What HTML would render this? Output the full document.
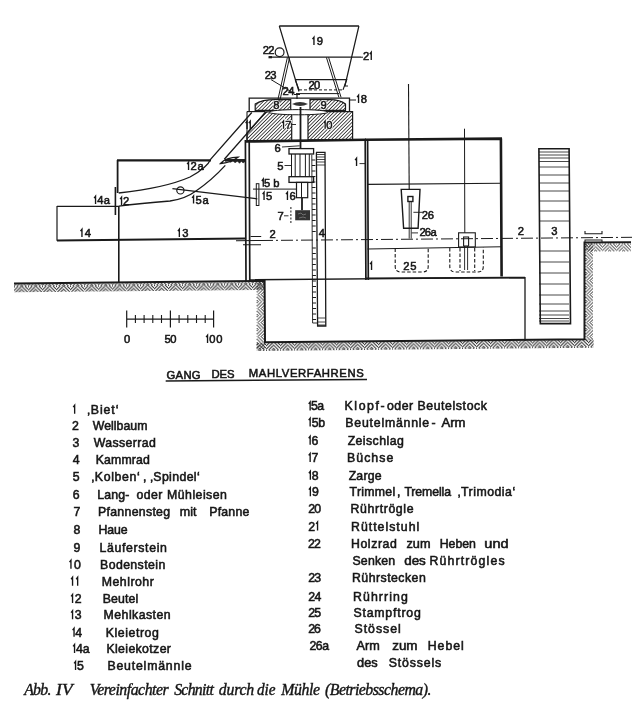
<!DOCTYPE html>
<html><head><meta charset="utf-8">
<style>
html,body{margin:0;padding:0;background:#fff;width:641px;height:705px;overflow:hidden}
svg{display:block;position:absolute;left:0;top:0;will-change:transform}
text.s{font-family:"Liberation Sans",sans-serif;fill:#161616;stroke:#161616;stroke-width:0.55px}
text.c{font-family:"Liberation Serif",serif;font-style:italic;fill:#161616;stroke:#161616;stroke-width:0.4px}
</style></head>
<body>
<svg width="641" height="705" viewBox="0 0 641 705">
<defs>
<pattern id="hb1" patternUnits="userSpaceOnUse" x="0" y="284" width="14" height="8"><path d="M0.00,0.80 L0.80,0.00 M0.00,4.10 L4.10,0.00 M0.00,7.40 L7.00,0.40 M2.70,8.00 L7.00,3.70 M6.00,8.00 L7.00,7.00 M7.00,5.80 L9.20,8.00 M7.00,2.50 L12.50,8.00 M7.80,0.00 L14.00,6.20 M11.10,0.00 L14.00,2.90" stroke="#1a1a1a" stroke-width="1.0" fill="none"/></pattern>
<pattern id="hb2" patternUnits="userSpaceOnUse" x="0" y="342" width="14" height="8"><path d="M0.00,0.80 L0.80,0.00 M0.00,4.10 L4.10,0.00 M0.00,7.40 L7.00,0.40 M2.70,8.00 L7.00,3.70 M6.00,8.00 L7.00,7.00 M7.00,5.80 L9.20,8.00 M7.00,2.50 L12.50,8.00 M7.80,0.00 L14.00,6.20 M11.10,0.00 L14.00,2.90" stroke="#1a1a1a" stroke-width="1.0" fill="none"/></pattern>
<pattern id="hb3" patternUnits="userSpaceOnUse" x="0" y="243.6" width="14" height="8"><path d="M0.00,0.80 L0.80,0.00 M0.00,4.10 L4.10,0.00 M0.00,7.40 L7.00,0.40 M2.70,8.00 L7.00,3.70 M6.00,8.00 L7.00,7.00 M7.00,5.80 L9.20,8.00 M7.00,2.50 L12.50,8.00 M7.80,0.00 L14.00,6.20 M11.10,0.00 L14.00,2.90" stroke="#1a1a1a" stroke-width="1.0" fill="none"/></pattern>
<pattern id="hv1" patternUnits="userSpaceOnUse" width="14" height="8" patternTransform="translate(264.6,0) rotate(90)"><path d="M0.00,0.80 L0.80,0.00 M0.00,4.10 L4.10,0.00 M0.00,7.40 L7.00,0.40 M2.70,8.00 L7.00,3.70 M6.00,8.00 L7.00,7.00 M7.00,5.80 L9.20,8.00 M7.00,2.50 L12.50,8.00 M7.80,0.00 L14.00,6.20 M11.10,0.00 L14.00,2.90" stroke="#1a1a1a" stroke-width="1.0" fill="none"/></pattern>
<pattern id="hv2" patternUnits="userSpaceOnUse" width="14" height="8" patternTransform="translate(593.5,0) rotate(90)"><path d="M0.00,0.80 L0.80,0.00 M0.00,4.10 L4.10,0.00 M0.00,7.40 L7.00,0.40 M2.70,8.00 L7.00,3.70 M6.00,8.00 L7.00,7.00 M7.00,5.80 L9.20,8.00 M7.00,2.50 L12.50,8.00 M7.80,0.00 L14.00,6.20 M11.10,0.00 L14.00,2.90" stroke="#1a1a1a" stroke-width="1.0" fill="none"/></pattern>
<pattern id="st" patternUnits="userSpaceOnUse" width="2.5" height="2.5" patternTransform="rotate(45)">
<rect x="0" y="0" width="0.85" height="2.5" fill="#333"/>
</pattern>
</defs>
<g id="diagram" stroke="#1a1a1a" fill="none" stroke-linecap="butt">
<!-- ground hatch -->
<g transform="translate(265,284) skewY(-0.57) translate(-265,-284)"><rect x="14" y="281.8" width="251" height="8" fill="url(#hb1)" stroke="none"/></g>
<rect x="256.6" y="282" width="8" height="67" fill="url(#hv1)" stroke="none"/>
<g transform="translate(265,342) skewY(-0.54) translate(-265,-342)"><rect x="256.6" y="342.8" width="337" height="8" fill="url(#hb2)" stroke="none"/></g>
<rect x="585" y="243.4" width="8" height="97" fill="url(#hv2)" stroke="none"/>
<rect x="585.5" y="243.4" width="45.5" height="8" fill="url(#hb3)" stroke="none"/>
<path d="M14,283.5 L264.6,281 L265,342.2 L584.5,339.2 L584.5,242.6 L631,242.2" stroke-width="2"/>
<!-- foundation -->
<path d="M249,279.8 L525,277.6 L525,341" stroke-width="1.3"/>
<!-- Mehlkasten / Kleietrog -->
<path d="M117,160.3 L211,160.3" stroke-width="2.2"/>
<path d="M225,160.3 L245,160.3" stroke-width="2.2"/>
<path d="M225,159.5 L245,159.5 L245,161.5 L243,163 L241.5,161 L239.5,163.3 L237.5,161 L235,162.8 L233,160.8 L230.5,162.3 L228,160.8 L225.5,161.3 Z" fill="#222" stroke-width="0.6"/><path d="M247,111.6 L247,140" stroke-width="1.1"/>
<path d="M117.6,160 L117.6,193" stroke-width="1.8"/>
<path d="M118.8,206 L118.8,283" stroke-width="1.6"/>
<path d="M57,206.3 L118.6,206.3 M57,206 L57,240.7" stroke-width="1.2"/>
<path d="M57,240.5 L245,238.6" stroke-width="2"/>
<path d="M115.4,187 L115.4,215" stroke-width="1.6"/>
<!-- shaft stubs -->
<path d="M250.6,236.5 L261.2,236.5 M243,244.7 L261,244.7" stroke-width="1.1"/><path d="M236,240.7 L261,240.5" stroke-width="1.1"/>
<!-- tube 11/12 -->
<path d="M251.8,112.5 L211,158.8 Q207,168 190,177 Q165,188 118.7,193" stroke-width="1.3"/>
<path d="M266,111.8 L224.3,159.3 M225.3,165.4 Q212,180 196,191 Q185,199 170,201 Q140,203.5 118.7,206.1" stroke-width="1.3"/>
<path d="M220.5,163.5 Q226,157.6 238,157.2 Q230,163 220.5,163.5 Z" stroke-width="1.3"/>
<!-- cord 15a -->
<path d="M172.4,188.6 L257.3,198.8" stroke-width="1.3"/>
<circle cx="180.4" cy="190.4" r="3.6" stroke-width="1.2"/>
<rect x="256.3" y="183.7" width="2.6" height="21.8" stroke-width="1"/>
<path d="M253,189.1 L296.8,189.1" stroke-width="1"/>
<!-- building left section walls -->
<path d="M245.4,140 L246,281 M249.2,140 L249.8,281" stroke-width="1.7"/>
<path d="M245,141.5 L366,139.8" stroke-width="2.6"/>
<path d="M365.2,139 L365.9,280 M367.6,139 L368.3,280" stroke-width="1.7"/>
<!-- right section -->
<path d="M365,139.8 L502,138.6 M500.9,138.6 L501.6,276.5" stroke-width="2.6"/>
<path d="M367.5,184.4 L502,183.2" stroke-width="1.1"/>
<path d="M367.5,249 L502,246.8" stroke-width="1.1"/>
<path d="M365,278.3 L525,277.6" stroke-width="1.6"/>
<!-- axis 2 -->
<path d="M261,240.5 L632,237.3" stroke-width="1" stroke-dasharray="12 3 2 3"/>
<!-- stones -->
<path d="M249.2,111.6 L249.2,98.2 L349.5,98.2 L349.5,111.6" stroke-width="1.3"/>
<path d="M255.2,110.4 L255.2,104 Q262,99.6 275,99.6 L290.7,99.6 L290.7,110.4 Z M310,99.6 L330,99.6 Q340,99.6 345.5,104 L345.5,110.4 L310,110.4 Z" fill="url(#st)" stroke-width="1.2"/>
<path d="M247,111.4 L265,111.4 L247,135 Z" fill="none" stroke="none"/>
<path d="M266,111.8 L291.7,111.8 L291.7,140.5 L247,140.5 L247,133 Z M308,111.6 L352.6,111.6 L352.6,139.8 L308,139.8 Z" fill="url(#st)" stroke-width="1.2"/>
<path d="M247,111.6 L265,111.6" stroke-width="1.2"/>
<ellipse cx="298.5" cy="112.2" rx="29.5" ry="2.6" fill="#fff" stroke-width="1"/>
<path d="M292,104 Q300,100 308,104 Q300,108 292,104 Z" fill="#333" stroke="none"/>
<path d="M300.5,107 L300.5,148.6" stroke-width="1.8"/>
<!-- Zarge/hopper area -->
<path d="M279.3,26 L358.9,26" stroke-width="1.5"/>
<path d="M279.3,26 L299,91.5 M358.9,26 L344.9,86" stroke-width="1.2"/>
<path d="M269,57.2 L361,57.2" stroke-width="1.3"/>
<path d="M361,57.2 L363,57.2" stroke-width="1"/>
<circle cx="279.6" cy="52.2" r="4.4" stroke-width="1.2"/><path d="M268.5,57.2 L272,57.2" stroke-width="2.2"/>
<path d="M287.4,57.4 L277,103.6 M289.6,57.4 L279.2,103.6" stroke-width="1"/>
<path d="M326.4,57.4 L338.9,97.4 M328.6,57.4 L341.1,97.4" stroke-width="1"/>
<path d="M295.2,79.6 L346.7,79.6 L343,89.9 M295.2,79.6 L299,89.9" stroke-width="1.2"/>
<path d="M299,89.9 L343,89.9" stroke-width="1" stroke-dasharray="3 2"/>
<path d="M344.5,86 L348,86" stroke-width="1"/>
<path d="M296,93.6 L339,93.6" stroke-width="1"/>
<path d="M271,79.6 L294.3,93.6" stroke-width="1"/>
<path d="M294,94.5 L300,94.5 M297,94.5 L297,99" stroke-width="1.2"/>
<path d="M349.5,100 L356,100" stroke-width="1"/>
<!-- Kolben / spindle -->
<rect x="289" y="148.6" width="24.6" height="5.4" stroke-width="1.3"/>
<path d="M291.5,154 L291.5,176.7 M295.2,154 L295.2,176.7 M300,154 L300,176.7 M305.4,154 L305.4,176.7 M309.3,154 L309.3,176.7" stroke-width="1"/>
<rect x="289" y="176.7" width="24.6" height="5.7" stroke-width="1.3"/>
<rect x="296.5" y="182.4" width="11.2" height="15.3" stroke-width="1.2"/>
<path d="M301.5,182.4 L301.5,197.7" stroke-width="1"/>
<path d="M302,197.7 L302,210.2" stroke-width="1.8"/>
<rect x="295.2" y="210.2" width="14.8" height="10.1" fill="#333" stroke="none"/><path d="M298,214 l3,-1 l2,2 l3,-1 M299,218 l4,-1 l3,1" stroke="#888" stroke-width="0.7"/>
<path d="M290.9,207 L290.9,223.5" stroke-width="1" stroke-dasharray="2 1.5"/>
<!-- Kammrad 4 -->
<path d="M311.8,154.8 L312.6,323 L317.6,323" stroke-width="0.9"/>
<path d="M316,152.4 L325,152.4 L325.8,326 L317.6,326 L316.4,152.4" stroke-width="1.3"/>
<path d="M311.8,160.0 h3.5 M311.9,165.5 h3.5 M311.9,171.0 h3.5 M311.9,176.5 h3.5 M311.9,182.0 h3.5 M312.0,187.5 h3.5 M312.0,193.0 h3.5 M312.0,198.5 h3.5 M312.0,204.0 h3.5 M312.1,209.5 h3.5 M312.1,215.0 h3.5 M312.1,220.5 h3.5 M312.2,226.0 h3.5 M312.2,231.5 h3.5 M312.3,248.0 h3.5 M312.3,253.5 h3.5 M312.3,259.0 h3.5 M312.3,264.5 h3.5 M312.4,270.0 h3.5 M312.4,275.5 h3.5 M312.4,281.0 h3.5 M312.5,286.5 h3.5 M312.5,292.0 h3.5 M312.5,297.5 h3.5 M312.5,303.0 h3.5 M312.6,308.5 h3.5 M312.6,314.0 h3.5 M312.6,319.5 h3.5" stroke-width="1"/>
<path d="M316.5,154.5 h8.5 M316.5,157 h8.5 M316.6,159.5 h8.5 M316.6,162 h8.5 M316.7,165 h8.5 M318,325 h7.5 M318,322 h7.5 M318,318 h7.5" stroke-width="0.8"/>
<!-- Stoessel 26 -->
<path d="M408.5,84 L409.2,189.4" stroke-width="1.1"/>
<path d="M401.2,189.4 L420,189.4 L418.1,228.2 L403.6,228.2 Z" stroke-width="1.4"/>
<rect x="407.9" y="196.5" width="5" height="5" stroke-width="1.4"/>
<path d="M409.2,202 L409.2,238.6 M411.2,202 L411.2,238.6" stroke-width="0.9"/>
<path d="M464.5,128.7 L464.8,232.8" stroke-width="1"/>
<rect x="458.6" y="232.8" width="16.7" height="14.2" stroke-width="1.1"/>
<rect x="463.6" y="237" width="5" height="9" stroke-width="1.1"/>
<path d="M464.6,246 L464.6,270 M467.6,246 L467.6,270" stroke-width="0.9"/>
<path d="M395.2,248.6 L395.2,266.5 Q395.2,272 401,272 L422.4,272 Q428.2,272 428.2,266.5 L428.2,248.2" stroke-width="1.1" stroke-dasharray="3.5 2"/>
<path d="M449.8,248 L449.8,266.5 Q449.8,272 455.6,272 L477.6,272 Q483.3,272 483.3,266.5 L483.3,247.6" stroke-width="1.1" stroke-dasharray="3.5 2"/>
<path d="M460,248 L460,271 M474.7,248 L474.7,271" stroke-width="1.1" stroke-dasharray="3.5 2"/>
<!-- water wheel 3 -->
<path d="M538.9,148.8 L569.1,148.8 L570.5,323.6 L540.3,323.6 Z" stroke-width="1.6"/>
<path d="M539,152 h30 M539,155 h30 M539,158 h30 M539,161.5 h30 M539,167 h30 M539,175 h30 M539,183 h30 M539,191 h30 M539,201 h30 M539,211 h30 M539,221 h30 M539,251 h30 M539,262 h30 M539,273 h30 M539,284 h30 M539,295 h30 M539,304 h30 M539,311 h30 M539,315 h30 M539,318.5 h30 M539,321 h30" stroke-width="0.8"/>
<path d="M585,231 L585,233.8 L602,233.8 L602,231" stroke-width="1.1"/>
<rect x="585" y="240" width="17" height="2.5" stroke-width="1"/>
<!-- scale bar -->
<path d="M126.7,319.2 L213.6,319.2 M126.7,310.5 L126.7,327.4 M170.4,310.5 L170.4,327.4 M213.6,310.5 L213.6,327.4" stroke-width="1.2"/>
<path d="M135.4,315 v8 M144.1,315 v8 M152.8,315 v8 M161.5,315 v8 M179.1,315 v8 M187.8,315 v8 M196.5,315 v8 M205.2,315 v8" stroke-width="1.1"/>
<!-- leaders -->
<path d="M282,147 L299.6,145.8 M284.5,165.5 L291,165.5 M284,215.8 L288.5,215.8 M359.5,163.6 L365,163.6 M291.5,124.5 L296,124.5 M413.4,212.3 L422.3,212.3 M411.5,232.9 L418,232.9" stroke-width="0.9"/>
<!-- heading underline -->
<path d="M165.7,381 L367,379.4" stroke-width="1.5"/>
</g>
<g id="texts">
<path d="M313.95,45.00 V37.29 L312.50,39.19" stroke="#161616" stroke-width="1.35" fill="none"/>
<text class="s" transform="translate(317.19,45.00) scale(1.000,1)" x="-0.50" y="0" style="font-size:11.2px">9</text>
<text class="s" transform="translate(263.40,54.30) scale(1.000,1)" x="-0.56" y="0" style="font-size:11.2px">2</text>
<text class="s" transform="translate(268.80,54.30) scale(1.000,1)" x="-0.56" y="0" style="font-size:11.2px">2</text>
<text class="s" transform="translate(363.60,60.00) scale(1.000,1)" x="-0.56" y="0" style="font-size:11.2px">2</text>
<path d="M371.25,60.00 V52.29 L369.80,54.19" stroke="#161616" stroke-width="1.35" fill="none"/>
<text class="s" transform="translate(265.30,78.60) scale(1.000,1)" x="-0.56" y="0" style="font-size:11.2px">2</text>
<text class="s" transform="translate(270.70,78.60) scale(1.000,1)" x="-0.45" y="0" style="font-size:11.2px">3</text>
<text class="s" transform="translate(309.00,89.00) scale(1.000,1)" x="-0.56" y="0" style="font-size:11.2px">2</text>
<text class="s" transform="translate(314.40,89.00) scale(1.000,1)" x="-0.45" y="0" style="font-size:11.2px">0</text>
<text class="s" transform="translate(283.00,94.60) scale(1.000,1)" x="-0.56" y="0" style="font-size:11.2px">2</text>
<text class="s" transform="translate(288.40,94.60) scale(1.000,1)" x="-0.22" y="0" style="font-size:11.2px">4</text>
<path d="M358.55,103.00 V95.29 L357.10,97.19" stroke="#161616" stroke-width="1.35" fill="none"/>
<text class="s" transform="translate(361.14,103.00) scale(1.000,1)" x="-0.50" y="0" style="font-size:11.2px">8</text>
<text class="s" transform="translate(273.70,108.70) scale(1.000,1)" x="-0.50" y="0" style="font-size:11.2px;fill:#fff;stroke:#fff;stroke-width:2px">8</text>
<text class="s" transform="translate(273.70,108.70) scale(1.000,1)" x="-0.50" y="0" style="font-size:11.2px">8</text>
<text class="s" transform="translate(321.00,108.50) scale(1.000,1)" x="-0.50" y="0" style="font-size:11.2px;fill:#fff;stroke:#fff;stroke-width:2px">9</text>
<text class="s" transform="translate(321.00,108.50) scale(1.000,1)" x="-0.50" y="0" style="font-size:11.2px">9</text>
<path d="M283.55,128.70 V120.99 L282.10,122.89" stroke="#fff" stroke-width="3" fill="none"/>
<text class="s" transform="translate(285.90,128.70) scale(1.000,1)" x="-0.56" y="0" style="font-size:11.2px;fill:#fff;stroke:#fff;stroke-width:2px">7</text>
<path d="M283.55,128.70 V120.99 L282.10,122.89" stroke="#161616" stroke-width="1.35" fill="none"/>
<text class="s" transform="translate(285.90,128.70) scale(1.000,1)" x="-0.56" y="0" style="font-size:11.2px">7</text>
<path d="M325.15,128.70 V120.99 L323.70,122.89" stroke="#fff" stroke-width="3" fill="none"/>
<text class="s" transform="translate(326.62,128.70) scale(1.000,1)" x="-0.45" y="0" style="font-size:11.2px;fill:#fff;stroke:#fff;stroke-width:2px">0</text>
<path d="M325.15,128.70 V120.99 L323.70,122.89" stroke="#161616" stroke-width="1.35" fill="none"/>
<text class="s" transform="translate(326.62,128.70) scale(1.000,1)" x="-0.45" y="0" style="font-size:11.2px">0</text>
<path d="M247.05,128.90 V121.19 L245.60,123.09" stroke="#161616" stroke-width="1.35" fill="none"/>
<path d="M250.25,128.90 V121.19 L248.80,123.09" stroke="#161616" stroke-width="1.35" fill="none"/>
<text class="s" transform="translate(275.00,151.70) scale(1.000,1)" x="-0.56" y="0" style="font-size:11.2px">6</text>
<path d="M356.55,166.00 V158.29 L355.10,160.19" stroke="#161616" stroke-width="1.35" fill="none"/>
<path d="M188.55,170.00 V162.29 L187.10,164.19" stroke="#161616" stroke-width="1.35" fill="none"/>
<text class="s" transform="translate(191.02,170.00) scale(1.000,1)" x="-0.56" y="0" style="font-size:11.2px">2</text>
<text class="s" transform="translate(197.83,170.00) scale(1.000,1)" x="-0.45" y="0" style="font-size:11.2px">a</text>
<text class="s" transform="translate(277.80,169.60) scale(1.000,1)" x="-0.45" y="0" style="font-size:11.2px">5</text>
<path d="M263.25,186.80 V179.09 L261.80,180.99" stroke="#161616" stroke-width="1.35" fill="none"/>
<text class="s" transform="translate(264.51,186.80) scale(1.000,1)" x="-0.45" y="0" style="font-size:11.2px">5</text>
<text class="s" transform="translate(273.86,186.80) scale(1.000,1)" x="-0.73" y="0" style="font-size:11.2px">b</text>
<path d="M264.05,200.00 V192.29 L262.60,194.19" stroke="#161616" stroke-width="1.35" fill="none"/>
<text class="s" transform="translate(266.48,200.00) scale(1.000,1)" x="-0.45" y="0" style="font-size:11.2px">5</text>
<path d="M287.45,200.00 V192.29 L286.00,194.19" stroke="#161616" stroke-width="1.35" fill="none"/>
<text class="s" transform="translate(289.99,200.00) scale(1.000,1)" x="-0.56" y="0" style="font-size:11.2px">6</text>
<path d="M95.55,204.00 V196.29 L94.10,198.19" stroke="#161616" stroke-width="1.35" fill="none"/>
<text class="s" transform="translate(97.44,204.00) scale(1.000,1)" x="-0.22" y="0" style="font-size:11.2px">4</text>
<text class="s" transform="translate(104.23,204.00) scale(1.000,1)" x="-0.45" y="0" style="font-size:11.2px">a</text>
<path d="M121.55,205.00 V197.29 L120.10,199.19" stroke="#161616" stroke-width="1.35" fill="none"/>
<text class="s" transform="translate(123.60,205.00) scale(1.000,1)" x="-0.56" y="0" style="font-size:11.2px">2</text>
<path d="M193.55,203.60 V195.89 L192.10,197.79" stroke="#161616" stroke-width="1.35" fill="none"/>
<text class="s" transform="translate(195.91,203.60) scale(1.000,1)" x="-0.45" y="0" style="font-size:11.2px">5</text>
<text class="s" transform="translate(202.83,203.60) scale(1.000,1)" x="-0.45" y="0" style="font-size:11.2px">a</text>
<text class="s" transform="translate(278.00,219.60) scale(1.000,1)" x="-0.56" y="0" style="font-size:11.2px">7</text>
<text class="s" transform="translate(422.40,218.60) scale(1.000,1)" x="-0.56" y="0" style="font-size:11.2px">2</text>
<text class="s" transform="translate(428.39,218.60) scale(1.000,1)" x="-0.56" y="0" style="font-size:11.2px">6</text>
<path d="M81.95,237.00 V229.29 L80.50,231.19" stroke="#161616" stroke-width="1.35" fill="none"/>
<text class="s" transform="translate(84.94,237.00) scale(1.000,1)" x="-0.22" y="0" style="font-size:11.2px">4</text>
<path d="M179.35,237.00 V229.29 L177.90,231.19" stroke="#161616" stroke-width="1.35" fill="none"/>
<text class="s" transform="translate(182.68,237.00) scale(1.000,1)" x="-0.45" y="0" style="font-size:11.2px">3</text>
<text class="s" transform="translate(270.00,238.00) scale(1.000,1)" x="-0.56" y="0" style="font-size:11.2px">2</text>
<text class="s" transform="translate(319.00,237.00) scale(1.000,1)" x="-0.22" y="0" style="font-size:11.2px">4</text>
<text class="s" transform="translate(420.00,236.00) scale(1.000,1)" x="-0.56" y="0" style="font-size:11.2px">2</text>
<text class="s" transform="translate(425.40,236.00) scale(1.000,1)" x="-0.56" y="0" style="font-size:11.2px">6</text>
<text class="s" transform="translate(430.90,236.00) scale(1.000,1)" x="-0.45" y="0" style="font-size:11.2px">a</text>
<text class="s" transform="translate(518.40,235.00) scale(1.000,1)" x="-0.56" y="0" style="font-size:11.2px">2</text>
<text class="s" transform="translate(551.60,235.00) scale(1.000,1)" x="-0.45" y="0" style="font-size:11.2px">3</text>
<text class="s" transform="translate(403.70,270.00) scale(1.000,1)" x="-0.56" y="0" style="font-size:11.2px">2</text>
<text class="s" transform="translate(410.68,270.00) scale(1.000,1)" x="-0.45" y="0" style="font-size:11.2px">5</text>
<path d="M371.55,270.00 V262.29 L370.10,264.19" stroke="#161616" stroke-width="1.35" fill="none"/>
<text class="s" transform="translate(124.50,343.00) scale(1.000,1)" x="-0.45" y="0" style="font-size:11.2px">0</text>
<text class="s" transform="translate(165.00,343.00) scale(1.000,1)" x="-0.45" y="0" style="font-size:11.2px">5</text>
<text class="s" transform="translate(170.62,343.00) scale(1.000,1)" x="-0.45" y="0" style="font-size:11.2px">0</text>
<path d="M207.55,343.00 V335.29 L206.10,337.19" stroke="#161616" stroke-width="1.35" fill="none"/>
<text class="s" transform="translate(209.77,343.00) scale(1.000,1)" x="-0.45" y="0" style="font-size:11.2px">0</text>
<text class="s" transform="translate(216.62,343.00) scale(1.000,1)" x="-0.45" y="0" style="font-size:11.2px">0</text>
<text class="s" x="166.44" y="378.80" style="font-size:11.3px;letter-spacing:0.31px">GANG</text>
<text class="s" transform="translate(212.30,378.20) scale(1.000,1)" x="-0.90" y="0" style="font-size:11.3px">DES</text>
<text class="s" x="248.80" y="377.40" style="font-size:11.3px;letter-spacing:0.60px">MAHLVERFAHRENS</text>
<path d="M74.65,413.70 V405.24 L73.20,407.14" stroke="#161616" stroke-width="1.35" fill="none"/>
<text class="s" x="87.20" y="413.70" style="font-size:12.3px;letter-spacing:0.92px">‚Biet‘</text>
<text class="s" transform="translate(72.50,430.30) scale(1.000,1)" x="-0.62" y="0" style="font-size:12.3px">2</text>
<text class="s" x="92.74" y="430.30" style="font-size:12.3px;letter-spacing:0.04px">Wellbaum</text>
<text class="s" transform="translate(73.10,447.40) scale(1.000,1)" x="-0.49" y="0" style="font-size:12.3px">3</text>
<text class="s" x="93.64" y="447.40" style="font-size:12.3px;letter-spacing:0.40px">Wasserrad</text>
<text class="s" transform="translate(73.10,464.30) scale(1.000,1)" x="-0.25" y="0" style="font-size:12.3px">4</text>
<text class="s" x="95.82" y="464.30" style="font-size:12.3px;letter-spacing:0.11px">Kammrad</text>
<text class="s" transform="translate(73.30,481.20) scale(1.000,1)" x="-0.49" y="0" style="font-size:12.3px">5</text>
<text class="s" x="91.50" y="481.20" style="font-size:12.3px;letter-spacing:0.64px">‚Kolben‘</text>
<text class="s" x="142.89" y="481.20" style="font-size:12.3px">,</text>
<text class="s" x="150.20" y="481.20" style="font-size:12.3px;letter-spacing:0.38px">‚Spindel‘</text>
<text class="s" transform="translate(73.30,498.60) scale(1.000,1)" x="-0.62" y="0" style="font-size:12.3px">6</text>
<text class="s" x="97.22" y="498.60" style="font-size:12.3px;letter-spacing:0.14px">Lang-</text>
<text class="s" x="136.51" y="498.60" style="font-size:12.3px;letter-spacing:0.43px">oder</text>
<text class="s" x="167.12" y="498.60" style="font-size:12.3px;letter-spacing:0.46px">Mühleisen</text>
<text class="s" transform="translate(74.00,515.50) scale(1.000,1)" x="-0.62" y="0" style="font-size:12.3px">7</text>
<text class="s" x="98.02" y="515.50" style="font-size:12.3px;letter-spacing:0.30px">Pfannensteg</text>
<text class="s" transform="translate(180.60,515.50) scale(1.013,1)" x="-0.80" y="0" style="font-size:12.3px">mit</text>
<text class="s" x="209.22" y="515.50" style="font-size:12.3px;letter-spacing:0.23px">Pfanne</text>
<text class="s" transform="translate(74.00,534.40) scale(1.000,1)" x="-0.55" y="0" style="font-size:12.3px">8</text>
<text class="s" x="98.62" y="534.40" style="font-size:12.3px;letter-spacing:-0.15px">Haue</text>
<text class="s" transform="translate(74.00,551.50) scale(1.000,1)" x="-0.55" y="0" style="font-size:12.3px">9</text>
<text class="s" x="99.62" y="551.50" style="font-size:12.3px;letter-spacing:0.64px">Läuferstein</text>
<path d="M70.95,568.70 V560.24 L69.50,562.14" stroke="#161616" stroke-width="1.35" fill="none"/>
<text class="s" transform="translate(74.40,568.70) scale(1.000,1)" x="-0.49" y="0" style="font-size:12.3px">0</text>
<text class="s" x="100.02" y="568.70" style="font-size:12.3px;letter-spacing:0.41px">Bodenstein</text>
<path d="M72.55,585.80 V577.34 L71.10,579.24" stroke="#161616" stroke-width="1.35" fill="none"/>
<path d="M77.65,585.80 V577.34 L76.20,579.24" stroke="#161616" stroke-width="1.35" fill="none"/>
<text class="s" x="101.72" y="585.80" style="font-size:12.3px;letter-spacing:0.51px">Mehlrohr</text>
<path d="M72.55,603.00 V594.54 L71.10,596.44" stroke="#161616" stroke-width="1.35" fill="none"/>
<text class="s" transform="translate(75.40,603.00) scale(1.000,1)" x="-0.62" y="0" style="font-size:12.3px">2</text>
<text class="s" x="102.72" y="603.00" style="font-size:12.3px;letter-spacing:0.12px">Beutel</text>
<path d="M72.55,619.20 V610.74 L71.10,612.64" stroke="#161616" stroke-width="1.35" fill="none"/>
<text class="s" transform="translate(75.16,619.20) scale(1.000,1)" x="-0.49" y="0" style="font-size:12.3px">3</text>
<text class="s" x="103.62" y="619.20" style="font-size:12.3px;letter-spacing:0.45px">Mehlkasten</text>
<path d="M74.05,636.70 V628.24 L72.60,630.14" stroke="#161616" stroke-width="1.35" fill="none"/>
<text class="s" transform="translate(75.59,636.70) scale(1.000,1)" x="-0.25" y="0" style="font-size:12.3px">4</text>
<text class="s" x="105.82" y="636.70" style="font-size:12.3px;letter-spacing:0.56px">Kleietrog</text>
<path d="M74.55,653.00 V644.54 L73.10,646.44" stroke="#161616" stroke-width="1.35" fill="none"/>
<text class="s" transform="translate(76.18,653.00) scale(1.000,1)" x="-0.25" y="0" style="font-size:12.3px">4</text>
<text class="s" transform="translate(83.27,653.00) scale(1.000,1)" x="-0.49" y="0" style="font-size:12.3px">a</text>
<text class="s" x="106.42" y="653.00" style="font-size:12.3px;letter-spacing:0.37px">Kleiekotzer</text>
<path d="M75.55,670.00 V661.54 L74.10,663.44" stroke="#161616" stroke-width="1.35" fill="none"/>
<text class="s" transform="translate(77.56,670.00) scale(1.000,1)" x="-0.49" y="0" style="font-size:12.3px">5</text>
<text class="s" x="107.42" y="670.00" style="font-size:12.3px;letter-spacing:0.81px">Beutelmännle</text>
<path d="M310.15,410.40 V401.94 L308.70,403.84" stroke="#161616" stroke-width="1.35" fill="none"/>
<text class="s" transform="translate(311.36,410.40) scale(1.000,1)" x="-0.49" y="0" style="font-size:12.3px">5</text>
<text class="s" transform="translate(317.67,410.40) scale(1.000,1)" x="-0.49" y="0" style="font-size:12.3px">a</text>
<text class="s" x="344.62" y="410.40" style="font-size:12.3px;letter-spacing:1.55px">Klopf-</text>
<text class="s" x="387.01" y="410.40" style="font-size:12.3px;letter-spacing:0.53px">oder</text>
<text class="s" x="417.42" y="410.40" style="font-size:12.3px;letter-spacing:0.60px">Beutelstock</text>
<path d="M310.15,426.60 V418.14 L308.70,420.04" stroke="#161616" stroke-width="1.35" fill="none"/>
<text class="s" transform="translate(312.11,426.60) scale(1.000,1)" x="-0.49" y="0" style="font-size:12.3px">5</text>
<text class="s" transform="translate(319.16,426.60) scale(1.000,1)" x="-0.80" y="0" style="font-size:12.3px">b</text>
<text class="s" x="345.32" y="426.60" style="font-size:12.3px;letter-spacing:0.79px">Beutelmännle</text>
<text class="s" x="431.45" y="426.60" style="font-size:12.3px">-</text>
<text class="s" transform="translate(441.40,426.60) scale(1.070,1)" x="-0.00" y="0" style="font-size:12.3px">Arm</text>
<path d="M310.15,444.80 V436.34 L308.70,438.24" stroke="#161616" stroke-width="1.35" fill="none"/>
<text class="s" transform="translate(312.08,444.80) scale(1.000,1)" x="-0.62" y="0" style="font-size:12.3px">6</text>
<text class="s" x="347.63" y="444.80" style="font-size:12.3px;letter-spacing:0.44px">Zeischlag</text>
<path d="M310.15,462.00 V453.54 L308.70,455.44" stroke="#161616" stroke-width="1.35" fill="none"/>
<text class="s" transform="translate(312.20,462.00) scale(1.000,1)" x="-0.62" y="0" style="font-size:12.3px">7</text>
<text class="s" x="347.02" y="462.00" style="font-size:12.3px;letter-spacing:1.04px">Büchse</text>
<path d="M310.35,479.80 V471.34 L308.90,473.24" stroke="#161616" stroke-width="1.35" fill="none"/>
<text class="s" transform="translate(312.42,479.80) scale(1.000,1)" x="-0.55" y="0" style="font-size:12.3px">8</text>
<text class="s" x="348.63" y="479.80" style="font-size:12.3px;letter-spacing:0.20px">Zarge</text>
<path d="M310.35,496.20 V487.74 L308.90,489.64" stroke="#161616" stroke-width="1.35" fill="none"/>
<text class="s" transform="translate(312.48,496.20) scale(1.000,1)" x="-0.55" y="0" style="font-size:12.3px">9</text>
<text class="s" x="349.55" y="496.20" style="font-size:12.3px;letter-spacing:0.29px">Trimmel</text>
<text class="s" x="396.89" y="496.20" style="font-size:12.3px">,</text>
<text class="s" x="404.45" y="496.20" style="font-size:12.3px;letter-spacing:-0.12px">Tremella</text>
<text class="s" x="457.70" y="496.20" style="font-size:12.3px;letter-spacing:0.52px">‚Trimodia‘</text>
<text class="s" transform="translate(308.80,513.40) scale(1.000,1)" x="-0.62" y="0" style="font-size:12.3px">2</text>
<text class="s" transform="translate(314.70,513.40) scale(1.000,1)" x="-0.49" y="0" style="font-size:12.3px">0</text>
<text class="s" x="350.52" y="513.40" style="font-size:12.3px;letter-spacing:0.62px">Rührtrögle</text>
<text class="s" transform="translate(308.80,530.50) scale(1.000,1)" x="-0.62" y="0" style="font-size:12.3px">2</text>
<path d="M317.55,530.50 V522.04 L316.10,523.94" stroke="#161616" stroke-width="1.35" fill="none"/>
<text class="s" x="351.02" y="530.50" style="font-size:12.3px;letter-spacing:1.01px">Rüttelstuhl</text>
<text class="s" transform="translate(308.60,548.30) scale(1.000,1)" x="-0.62" y="0" style="font-size:12.3px">2</text>
<text class="s" transform="translate(314.50,548.30) scale(1.000,1)" x="-0.62" y="0" style="font-size:12.3px">2</text>
<text class="s" x="351.02" y="548.30" style="font-size:12.3px;letter-spacing:0.57px">Holzrad</text>
<text class="s" transform="translate(407.00,548.30) scale(1.034,1)" x="-0.49" y="0" style="font-size:12.3px">zum</text>
<text class="s" x="439.72" y="548.30" style="font-size:12.3px;letter-spacing:-0.03px">Heben</text>
<text class="s" transform="translate(485.30,548.30) scale(1.181,1)" x="-0.80" y="0" style="font-size:12.3px">und</text>
<text class="s" x="352.45" y="565.00" style="font-size:12.3px;letter-spacing:0.21px">Senken</text>
<text class="s" transform="translate(404.70,565.00) scale(1.091,1)" x="-0.49" y="0" style="font-size:12.3px">des</text>
<text class="s" x="429.42" y="565.00" style="font-size:12.3px;letter-spacing:1.16px">Rührtrögles</text>
<text class="s" transform="translate(308.80,582.30) scale(1.000,1)" x="-0.62" y="0" style="font-size:12.3px">2</text>
<text class="s" transform="translate(314.70,582.30) scale(1.000,1)" x="-0.49" y="0" style="font-size:12.3px">3</text>
<text class="s" x="352.02" y="582.30" style="font-size:12.3px;letter-spacing:0.47px">Rührstecken</text>
<text class="s" transform="translate(308.80,601.20) scale(1.000,1)" x="-0.62" y="0" style="font-size:12.3px">2</text>
<text class="s" transform="translate(314.70,601.20) scale(1.000,1)" x="-0.25" y="0" style="font-size:12.3px">4</text>
<text class="s" x="353.02" y="601.20" style="font-size:12.3px;letter-spacing:1.09px">Rührring</text>
<text class="s" transform="translate(308.80,616.60) scale(1.000,1)" x="-0.62" y="0" style="font-size:12.3px">2</text>
<text class="s" transform="translate(314.70,616.60) scale(1.000,1)" x="-0.49" y="0" style="font-size:12.3px">5</text>
<text class="s" x="353.45" y="616.60" style="font-size:12.3px;letter-spacing:0.80px">Stampftrog</text>
<text class="s" transform="translate(308.80,633.00) scale(1.000,1)" x="-0.62" y="0" style="font-size:12.3px">2</text>
<text class="s" transform="translate(314.70,633.00) scale(1.000,1)" x="-0.62" y="0" style="font-size:12.3px">6</text>
<text class="s" x="354.45" y="633.00" style="font-size:12.3px;letter-spacing:1.01px">Stössel</text>
<text class="s" transform="translate(310.00,650.30) scale(1.000,1)" x="-0.62" y="0" style="font-size:12.3px">2</text>
<text class="s" transform="translate(316.27,650.30) scale(1.000,1)" x="-0.62" y="0" style="font-size:12.3px">6</text>
<text class="s" transform="translate(322.67,650.30) scale(1.000,1)" x="-0.49" y="0" style="font-size:12.3px">a</text>
<text class="s" transform="translate(356.60,650.30) scale(1.029,1)" x="-0.00" y="0" style="font-size:12.3px">Arm</text>
<text class="s" transform="translate(392.70,650.30) scale(1.093,1)" x="-0.49" y="0" style="font-size:12.3px">zum</text>
<text class="s" x="427.72" y="650.30" style="font-size:12.3px;letter-spacing:1.00px">Hebel</text>
<text class="s" transform="translate(357.60,667.40) scale(1.038,1)" x="-0.49" y="0" style="font-size:12.3px">des</text>
<text class="s" x="388.65" y="667.40" style="font-size:12.3px;letter-spacing:0.86px">Stössels</text>
<text class="c" x="24.17" y="695.40" style="font-size:15.8px;letter-spacing:-0.71px">Abb.</text>
<text class="c" transform="translate(56.00,695.40) scale(1.108,1)" x="0.08" y="0" style="font-size:15.8px">IV</text>
<text class="c" x="89.81" y="695.40" style="font-size:15.8px;letter-spacing:-0.47px">Vereinfachter</text>
<text class="c" x="174.14" y="695.40" style="font-size:15.8px;letter-spacing:-0.70px">Schnitt</text>
<text class="c" x="218.83" y="695.40" style="font-size:15.8px;letter-spacing:-0.24px">durch</text>
<text class="c" transform="translate(257.40,695.40) scale(0.963,1)" x="-0.47" y="0" style="font-size:15.8px">die</text>
<text class="c" x="281.16" y="695.40" style="font-size:15.8px;letter-spacing:-0.38px">Mühle</text>
<text class="c" x="325.05" y="695.40" style="font-size:15.8px;letter-spacing:-0.51px">(Betriebsschema).</text>
</g>
</svg>
</body></html>
